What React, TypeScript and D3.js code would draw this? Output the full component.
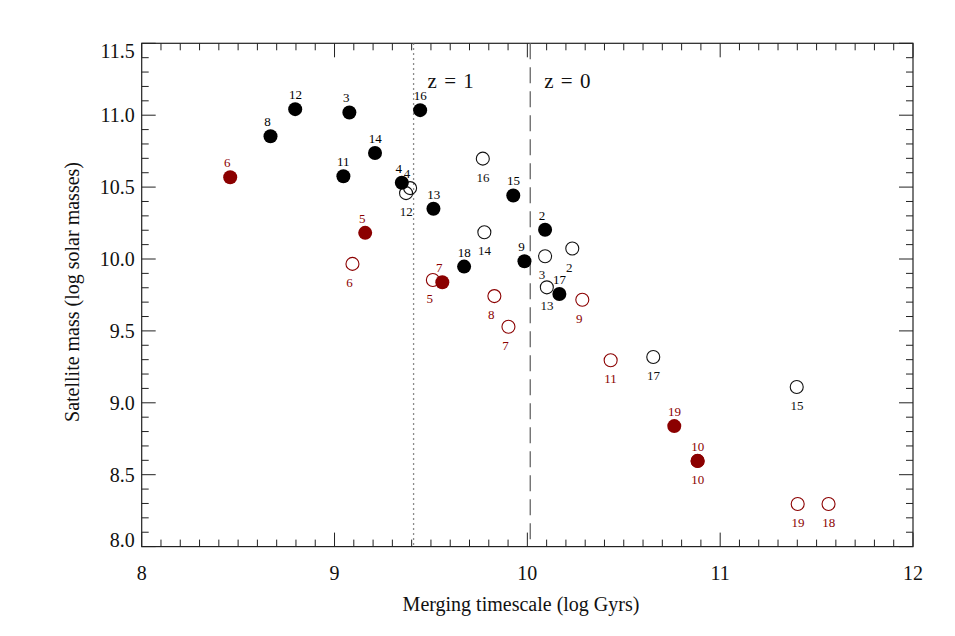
import React, { useEffect, useRef } from "react";
import * as d3 from "d3";

// Black (filled) satellites
const blackFilledIds = ["12", "8", "3", "11", "16", "14", "4", "13", "15", "2", "18", "9", "17"];
const blackFilledX = [8.796, 8.668, 9.077, 9.046, 9.444, 9.210, 9.349, 9.513, 9.927, 10.092, 9.672, 9.985, 10.166];
const blackFilledY = [11.042, 10.854, 11.019, 10.575, 11.035, 10.737, 10.53, 10.349, 10.442, 10.203, 9.947, 9.984, 9.757];

// Black (open) satellites
const blackOpenIds = ["4", "12", "16", "14", "3", "2", "13", "17", "15"];
const blackOpenX = [9.392, 9.371, 9.769, 9.777, 10.092, 10.233, 10.101, 10.653, 11.397];
const blackOpenY = [10.493, 10.458, 10.698, 10.186, 10.019, 10.073, 9.803, 9.319, 9.110];
const blackOpenLabelSide = ["above", "below", "below", "below", "below", "below", "below", "below", "below"];

// Red (filled) satellites
const redFilledIds = ["6", "5", "7", "19", "10"];
const redFilledX = [8.459, 9.159, 9.559, 10.762, 10.883];
const redFilledY = [10.568, 10.182, 9.838, 8.838, 8.596];

// Red (open) satellites
const redOpenIds = ["6", "5", "8", "7", "9", "11", "10", "19", "18"];
const redOpenX = [9.093, 9.510, 9.829, 9.902, 10.285, 10.432, 10.883, 11.402, 11.562];
const redOpenY = [9.966, 9.854, 9.742, 9.529, 9.717, 9.296, 8.596, 8.296, 8.296];

const xTicks = [8, 9, 10, 11, 12];
const yTicks = [8.0, 8.5, 9.0, 9.5, 10.0, 10.5, 11.0, 11.5];
const redshiftLines = [
  { label: "z = 1", x: 9.41, style: "dotted" },
  { label: "z = 0", x: 10.015, style: "dashed" },
];

const W = 955;
const H = 636;
const M = { left: 141.7, right: 913, top: 43.3, bottom: 546.6 };
const RED = "#8b0000";
const FONT = "'Liberation Serif', 'DejaVu Serif', serif";

export default function App() {
  const ref = useRef<SVGSVGElement>(null);

  useEffect(() => {
    const svg = d3.select(ref.current);
    svg.selectAll("*").remove();

    const x = d3.scaleLinear().domain([8, 12]).range([M.left, M.right]);
    const y = d3.scaleLinear().domain([8, 11.5]).range([M.bottom, M.top]);

    const axisColor = "#222";
    const g = svg.append("g");

    // frame
    g.append("rect")
      .attr("x", M.left).attr("y", M.top)
      .attr("width", M.right - M.left).attr("height", M.bottom - M.top)
      .attr("fill", "none").attr("stroke", axisColor).attr("stroke-width", 1.2);

    // x ticks (bottom + top, inward)
    const xMinor = d3.range(80, 121).map((v) => v / 10);
    xMinor.forEach((v) => {
      const major = Math.abs(v - Math.round(v)) < 1e-6;
      const len = major ? 14 : 7;
      const px = x(v);
      g.append("line").attr("x1", px).attr("x2", px).attr("y1", M.bottom).attr("y2", M.bottom - len)
        .attr("stroke", axisColor).attr("stroke-width", 1);
      g.append("line").attr("x1", px).attr("x2", px).attr("y1", M.top).attr("y2", M.top + len)
        .attr("stroke", axisColor).attr("stroke-width", 1);
    });
    // y ticks (left + right, inward)
    const yMinor = d3.range(80, 116).map((v) => v / 10);
    yMinor.forEach((v) => {
      const major = Math.abs(v * 2 - Math.round(v * 2)) < 1e-6;
      const len = major ? 14 : 7;
      const py = y(v);
      g.append("line").attr("x1", M.left).attr("x2", M.left + len).attr("y1", py).attr("y2", py)
        .attr("stroke", axisColor).attr("stroke-width", 1);
      g.append("line").attr("x1", M.right).attr("x2", M.right - len).attr("y1", py).attr("y2", py)
        .attr("stroke", axisColor).attr("stroke-width", 1);
    });

    // tick labels
    xTicks.forEach((v) => {
      g.append("text").attr("x", x(v)).attr("y", 580)
        .attr("text-anchor", "middle").attr("font-family", FONT).attr("font-size", 20)
        .attr("fill", "#111").text(String(v));
    });
    yTicks.forEach((v, i) => {
      let py = y(v);
      if (i === 0) py -= 7;
      if (i === yTicks.length - 1) py += 8;
      g.append("text").attr("x", M.left - 7).attr("y", py + 7)
        .attr("text-anchor", "end").attr("font-family", FONT).attr("font-size", 20)
        .attr("fill", "#111").text(v.toFixed(1));
    });

    // axis titles
    g.append("text").attr("x", 521).attr("y", 611)
      .attr("text-anchor", "middle").attr("font-family", FONT).attr("font-size", 20)
      .attr("fill", "#111").text("Merging timescale (log Gyrs)");
    g.append("text")
      .attr("transform", `translate(79, 292) rotate(-90)`)
      .attr("text-anchor", "middle").attr("font-family", FONT).attr("font-size", 20)
      .attr("fill", "#111").text("Satellite mass (log solar masses)");

    // redshift lines
    redshiftLines.forEach((l) => {
      g.append("line").attr("x1", x(l.x)).attr("x2", x(l.x))
        .attr("y1", M.top).attr("y2", M.bottom)
        .attr("stroke", "#666").attr("stroke-width", 1.3)
        .attr("stroke-dasharray", l.style === "dotted" ? "1.5,3.5" : "16,8");
      g.append("text").attr("x", x(l.x) + 14).attr("y", 88)
        .attr("font-family", FONT).attr("font-size", 21).attr("word-spacing", 2)
        .attr("fill", "#111").text(l.label);
    });

    const labelFont = 13;
    const drawSet = (
      ids: string[], xs: number[], ys: number[], filled: boolean, color: string,
      sides: string[] | null
    ) => {
      ids.forEach((id, i) => {
        const cx = x(xs[i]);
        const cy = y(ys[i]);
        if (filled) {
          g.append("circle").attr("cx", cx).attr("cy", cy).attr("r", 7).attr("fill", color);
        } else {
          g.append("circle").attr("cx", cx).attr("cy", cy).attr("r", 6.5)
            .attr("fill", "none").attr("stroke", color).attr("stroke-width", 1.1);
        }
        const side = sides ? sides[i] : filled ? "above" : "below";
        g.append("text")
          .attr("x", cx - 6.3)
          .attr("y", side === "above" ? cy - 10 : cy + 23)
          .attr("font-family", FONT).attr("font-size", labelFont)
          .attr("fill", color).text(id);
      });
    };

    drawSet(redOpenIds, redOpenX, redOpenY, false, RED, null);
    drawSet(blackOpenIds, blackOpenX, blackOpenY, false, "#111", blackOpenLabelSide);
    drawSet(redFilledIds, redFilledX, redFilledY, true, RED, null);
    drawSet(blackFilledIds, blackFilledX, blackFilledY, true, "#000", null);
  }, []);

  return (
    <svg
      ref={ref}
      width={W}
      height={H}
      style={{ position: "absolute", left: 0, top: 0, background: "#fff" }}
    />
  );
}
